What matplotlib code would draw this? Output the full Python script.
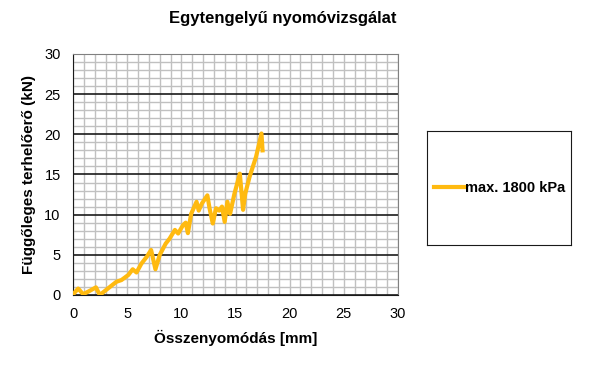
import matplotlib.pyplot as plt
from matplotlib.ticker import MultipleLocator

plt.rcParams['font.family'] = ['Liberation Sans', 'DejaVu Sans']

# Összenyomódás [mm] és függőleges terhelőerő [kN]
osszenyomodas = [0.0, 0.46, 0.92, 1.5, 2.1, 2.46, 3.2, 4.0, 4.46, 5.1, 5.5, 5.85,
                 6.3, 6.8, 7.2, 7.6, 8.0, 8.55, 8.9, 9.4, 9.7, 10.15, 10.4, 10.6,
                 10.9, 11.4, 11.6, 11.9, 12.4, 12.6, 12.9, 13.2, 13.5, 13.75, 14.0,
                 14.25, 14.5, 14.9, 15.4, 15.7, 15.9, 16.3, 16.9, 17.4, 17.5]
terheloero = [0.1, 0.8, 0.1, 0.5, 0.95, 0.0, 0.8, 1.65, 1.86, 2.5, 3.2, 2.8,
              3.9, 4.76, 5.6, 3.2, 5.0, 6.4, 7.0, 8.1, 7.65, 8.7, 9.0, 7.7,
              10.1, 11.6, 10.5, 11.4, 12.4, 10.8, 8.9, 10.8, 10.5, 11.0, 9.1,
              11.6, 10.1, 12.6, 15.1, 10.6, 12.6, 14.7, 17.2, 20.1, 18.0]
sorozat_nev = "max. 1800 kPa"

fig = plt.figure(figsize=(6, 3.72), dpi=100)
ax = fig.add_axes([0.122, 0.207, 0.541, 0.648])

ax.plot(osszenyomodas, terheloero, color='#FFBA10', lw=3, solid_joinstyle='round',
        label=sorozat_nev, zorder=3)

ax.set_xlim(0, 30)
ax.set_ylim(0, 30)
ax.xaxis.set_major_locator(MultipleLocator(5))
ax.yaxis.set_major_locator(MultipleLocator(5))
ax.xaxis.set_minor_locator(MultipleLocator(1))
ax.yaxis.set_minor_locator(MultipleLocator(1))

ax.grid(which='minor', color='#c0c0c0', lw=1)
ax.grid(which='major', axis='x', color='#c0c0c0', lw=1)
ax.grid(which='major', axis='y', color='#1a1a1a', lw=1.2)
ax.set_axisbelow(True)

ax.tick_params(which='both', length=0, labelsize=10.5)
ax.tick_params(axis='x', pad=9)
ax.tick_params(axis='y', pad=9)
for s in ['left', 'bottom']:
    ax.spines[s].set_color('#1a1a1a')
for s in ['top', 'right']:
    ax.spines[s].set_color('#808080')

ax.set_xlabel("Összenyomódás [mm]", fontsize=11, fontweight='bold', labelpad=6)
ax.set_ylabel("Függőleges terhelőerő (kN)", fontsize=11, fontweight='bold', labelpad=6)
fig.text(0.472, 0.95, "Egytengelyű nyomóvizsgálat", ha='center', va='center',
         fontsize=12, fontweight='bold')

# Jelmagyarázat külön keretben
lax = fig.add_axes([0.712, 0.341, 0.24, 0.306])
lax.set_xticks([])
lax.set_yticks([])
for s in lax.spines.values():
    s.set_color('#1a1a1a')
h, l = ax.get_legend_handles_labels()
leg = lax.legend(h, l, loc='center left', frameon=False, handlelength=2.0,
                 handletextpad=0.1, borderaxespad=0.1,
                 prop={'weight': 'bold', 'size': 10.5})

fig.savefig("out.png", dpi=100)
